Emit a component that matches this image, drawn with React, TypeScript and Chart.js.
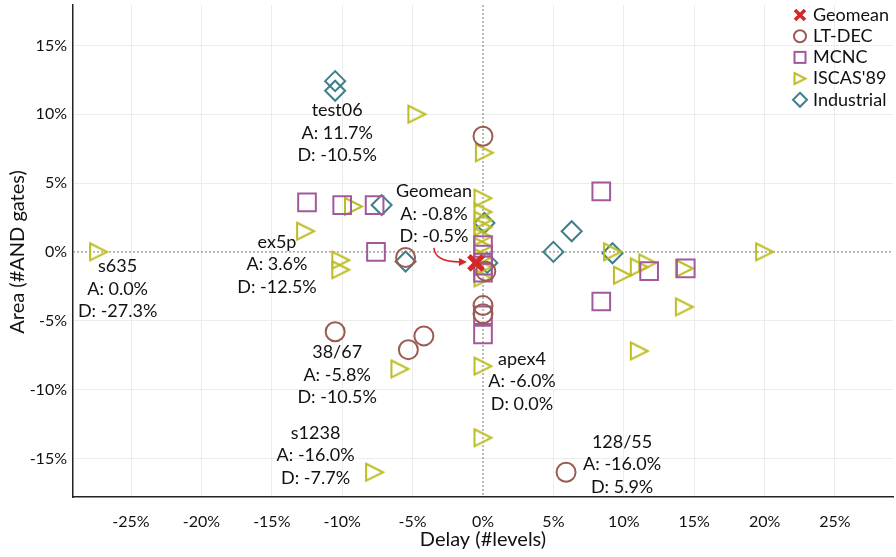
import { useEffect, useRef } from 'react';
import { Chart, registerables } from 'chart.js';

Chart.register(...registerables);

// Relative change (%) of each benchmark: delay (#levels) on x, area (#AND gates) on y.
const geomeanDelay = [-0.5];
const geomeanArea = [-0.8];

const ltDecDelay = [0, -10.5, -5.3, -4.2, -5.5, 0, 0, 0.2, 5.9];
const ltDecArea = [8.4, -5.8, -7.1, -6.1, -0.4, -3.9, -4.5, -1.4, -16.0];

const mcncDelay = [-12.5, -10.0, -7.7, -7.6, 8.4, 8.4, 11.8, 14.4, 0, 0, 0, 0, 0, 0];
const mcncArea = [3.6, 3.4, 3.4, 0.0, 4.4, -3.6, -1.4, -1.2, 0.5, -0.2, -1.0, -1.5, -4.6, -6.0];

const iscasDelay = [
  -27.3, -4.7, 0.1, 0, 0, 0, 0, 0, 0, 0, 0, 0, -12.6, -9.2, -10.1, -10.1, -5.9, -7.7, 0, 0,
  9.2, 9.9, 11.1, 11.7, 14.3, 14.3, 11.1, 20.0,
];
const iscasArea = [
  0.0, 10.0, 7.2, 3.9, 2.9, 2.3, 1.8, 1.1, 0.4, -0.4, -1.1, -1.9, 1.5, 3.3, -0.6, -1.3, -8.5,
  -16.0, -8.3, -13.5, 0.0, -1.7, -1.1, -0.8, -1.2, -4.0, -7.2, 0.0,
];

const industrialDelay = [-10.5, -10.5, -7.2, -5.5, 5.0, 6.3, 9.2, 0.1, 0.3];
const industrialArea = [12.4, 11.7, 3.4, -0.7, 0.0, 1.5, -0.1, 2.1, -0.8];

const seriesNames = ['Geomean', 'LT-DEC', 'MCNC', "ISCAS'89", 'Industrial'];

// Named benchmarks that get a value callout: name, series index, point index
const calloutNames = ['test06', 'Geomean', 'ex5p', 's635', '38/67', 'apex4', 's1238', '128/55'];
const calloutSeries = [4, 0, 2, 3, 1, 2, 3, 1];
const calloutPoint = [1, 0, 0, 0, 1, 13, 17, 8];

const xTickStep = 5;
const yTickStep = 5;

const COLORS = {
  geomean: '#d62728',
  ltDec: '#9a5b52',
  mcnc: '#a2599c',
  iscas: '#bcbd22',
  industrial: '#3e7f8b',
};

const FONT = 'Lato, "DejaVu Sans", sans-serif';

function zipPoints(xs: number[], ys: number[]) {
  return xs.map((x, i) => ({ x, y: ys[i] }));
}

function makeTriangle(color: string, size: number, lw: number) {
  const pad = lw + 1;
  const c = document.createElement('canvas');
  c.width = size + pad * 2;
  c.height = size + pad * 2;
  const g = c.getContext('2d')!;
  g.strokeStyle = color;
  g.lineWidth = lw;
  g.lineJoin = 'miter';
  g.beginPath();
  g.moveTo(pad, pad);
  g.lineTo(pad + size, pad + size / 2);
  g.lineTo(pad, pad + size);
  g.closePath();
  g.stroke();
  return c;
}

export default function App() {
  const canvasRef = useRef<HTMLCanvasElement | null>(null);

  useEffect(() => {
    const canvas = canvasRef.current;
    if (!canvas) return;

    const triangle = makeTriangle(COLORS.iscas, 17, 2);
    const legendTriangle = makeTriangle(COLORS.iscas, 11, 2);

    const series = [
      zipPoints(geomeanDelay, geomeanArea),
      zipPoints(ltDecDelay, ltDecArea),
      zipPoints(mcncDelay, mcncArea),
      zipPoints(iscasDelay, iscasArea),
      zipPoints(industrialDelay, industrialArea),
    ];

    const overlay = {
      id: 'overlay',
      beforeDatasetsDraw(chart: any) {
        const { ctx, chartArea, scales } = chart;
        const x0 = scales.x.getPixelForValue(0);
        const y0 = scales.y.getPixelForValue(0);
        ctx.save();
        ctx.strokeStyle = '#777';
        ctx.lineWidth = 1;
        ctx.setLineDash([2, 2]);
        ctx.beginPath();
        ctx.moveTo(x0, chartArea.top);
        ctx.lineTo(x0, chartArea.bottom);
        ctx.moveTo(chartArea.left, y0);
        ctx.lineTo(chartArea.right, y0);
        ctx.stroke();
        ctx.restore();
      },
      afterDraw(chart: any) {
        const { ctx, chartArea, scales } = chart;
        const xs = scales.x;
        const ys = scales.y;
        ctx.save();

        // axis titles
        ctx.fillStyle = '#111';
        ctx.font = `20px ${FONT}`;
        ctx.textAlign = 'center';
        ctx.textBaseline = 'middle';
        ctx.fillText('Delay (#levels)', xs.getPixelForValue(0), 540);
        ctx.save();
        ctx.translate(18, ys.getPixelForValue(0));
        ctx.rotate(-Math.PI / 2);
        ctx.fillText('Area (#AND gates)', 0, 0);
        ctx.restore();

        // callouts with the values of the named benchmarks
        const offsets: [number, number][] = [
          [2, 42], [-42, -49], [-30, 62], [19, 37], [2, 43], [39, 47], [-59, -17], [56, -8],
        ];
        ctx.font = `18px ${FONT}`;
        calloutNames.forEach((name, i) => {
          const p = series[calloutSeries[i]][calloutPoint[i]];
          const px = xs.getPixelForValue(p.x);
          const py = ys.getPixelForValue(p.y);
          const cx = px + offsets[i][0];
          const cy = py + offsets[i][1];
          const lines = [name, `A: ${p.y.toFixed(1)}%`, `D: ${p.x.toFixed(1)}%`];
          lines.forEach((t, k) => ctx.fillText(t, cx, cy + (k - 1) * 22.5));
        });

        // arrow from the Geomean callout to its marker
        const g = series[0][0];
        const gx = xs.getPixelForValue(g.x);
        const gy = ys.getPixelForValue(g.y);
        ctx.strokeStyle = COLORS.geomean;
        ctx.fillStyle = COLORS.geomean;
        ctx.lineWidth = 1.5;
        ctx.beginPath();
        ctx.moveTo(gx - 42, gy - 15);
        ctx.quadraticCurveTo(gx - 41, gy - 1, gx - 16, gy - 1);
        ctx.stroke();
        ctx.beginPath();
        ctx.moveTo(gx - 9, gy - 1);
        ctx.lineTo(gx - 17, gy - 5);
        ctx.lineTo(gx - 17, gy + 3);
        ctx.closePath();
        ctx.fill();

        // legend in the upper right corner of the plot
        const lx = 800;
        const tx = 813;
        ctx.textAlign = 'left';
        ctx.textBaseline = 'middle';
        ctx.font = `18px ${FONT}`;
        seriesNames.forEach((name, i) => {
          const y = chartArea.top + 10 + i * 21.2;
          ctx.save();
          ctx.lineWidth = 2;
          if (i === 0) {
            ctx.strokeStyle = COLORS.geomean;
            ctx.lineWidth = 3.5;
            ctx.beginPath();
            ctx.moveTo(lx - 5, y - 5);
            ctx.lineTo(lx + 5, y + 5);
            ctx.moveTo(lx + 5, y - 5);
            ctx.lineTo(lx - 5, y + 5);
            ctx.stroke();
          } else if (i === 1) {
            ctx.strokeStyle = COLORS.ltDec;
            ctx.beginPath();
            ctx.arc(lx, y, 6, 0, Math.PI * 2);
            ctx.stroke();
          } else if (i === 2) {
            ctx.strokeStyle = COLORS.mcnc;
            ctx.strokeRect(lx - 5.5, y - 5.5, 11, 11);
          } else if (i === 3) {
            ctx.drawImage(legendTriangle, lx - legendTriangle.width / 2, y - legendTriangle.height / 2);
          } else {
            ctx.strokeStyle = COLORS.industrial;
            ctx.beginPath();
            ctx.moveTo(lx, y - 7);
            ctx.lineTo(lx + 7, y);
            ctx.lineTo(lx, y + 7);
            ctx.lineTo(lx - 7, y);
            ctx.closePath();
            ctx.stroke();
          }
          ctx.restore();
          ctx.fillStyle = '#111';
          ctx.fillText(name, tx, y);
        });
        ctx.restore();
      },
    };

    const gridColor = (c: any) =>
      c.tick && c.tick.value === 0 ? 'rgba(0,0,0,0)' : '#ececec';

    const chart = new Chart(canvas, {
      type: 'scatter',
      data: {
        datasets: [
          {
            label: seriesNames[0],
            data: series[0],
            pointStyle: 'crossRot',
            pointRadius: 10,
            borderWidth: 5,
            borderColor: COLORS.geomean,
            backgroundColor: COLORS.geomean,
          },
          {
            label: seriesNames[1],
            data: series[1],
            pointStyle: 'circle',
            pointRadius: 9.5,
            borderWidth: 2,
            borderColor: COLORS.ltDec,
            backgroundColor: 'rgba(0,0,0,0)',
          },
          {
            label: seriesNames[2],
            data: series[2],
            pointStyle: 'rect',
            pointRadius: 12.5,
            borderWidth: 2,
            borderColor: COLORS.mcnc,
            backgroundColor: 'rgba(0,0,0,0)',
          },
          {
            label: seriesNames[3],
            data: series[3],
            pointStyle: triangle as any,
            pointRadius: 10,
            borderWidth: 2,
            borderColor: COLORS.iscas,
            backgroundColor: 'rgba(0,0,0,0)',
          },
          {
            label: seriesNames[4],
            data: series[4],
            pointStyle: 'rectRot',
            pointRadius: 10,
            borderWidth: 2,
            borderColor: COLORS.industrial,
            backgroundColor: 'rgba(0,0,0,0)',
          },
        ],
      },
      options: {
        animation: false,
        responsive: true,
        maintainAspectRatio: false,
        layout: { autoPadding: false, padding: { left: 0, right: 3, top: 5, bottom: 0 } },
        plugins: {
          legend: { display: false },
          tooltip: { enabled: false },
        },
        scales: {
          x: {
            type: 'linear',
            min: -29.12,
            max: 29.12,
            afterFit: (s: any) => {
              s.height = 60;
              s.paddingLeft = 0;
              s.paddingRight = 0;
            },
            border: { display: true, color: '#222', width: 1.5 },
            grid: { color: gridColor, lineWidth: 1, drawTicks: false },
            ticks: {
              stepSize: xTickStep,
              includeBounds: false,
              padding: 15,
              color: '#111',
              font: { family: FONT, size: 16 },
              callback: (v: any) => `${v}%`,
            },
          },
          y: {
            type: 'linear',
            min: -17.8,
            max: 17.93,
            afterFit: (s: any) => {
              s.width = 73;
              s.paddingTop = 0;
              s.paddingBottom = 0;
            },
            border: { display: true, color: '#222', width: 1.5 },
            grid: { color: gridColor, lineWidth: 1, drawTicks: false },
            ticks: {
              stepSize: yTickStep,
              includeBounds: false,
              padding: 6,
              color: '#111',
              font: { family: FONT, size: 16 },
              callback: (v: any) => `${v}%`,
            },
          },
        },
      },
      plugins: [overlay],
    });

    return () => chart.destroy();
  }, []);

  return (
    <div
      style={{
        position: 'absolute',
        left: 0,
        top: 0,
        width: 896,
        height: 557,
        background: '#fff',
      }}
    >
      <canvas ref={canvasRef} />
    </div>
  );
}
